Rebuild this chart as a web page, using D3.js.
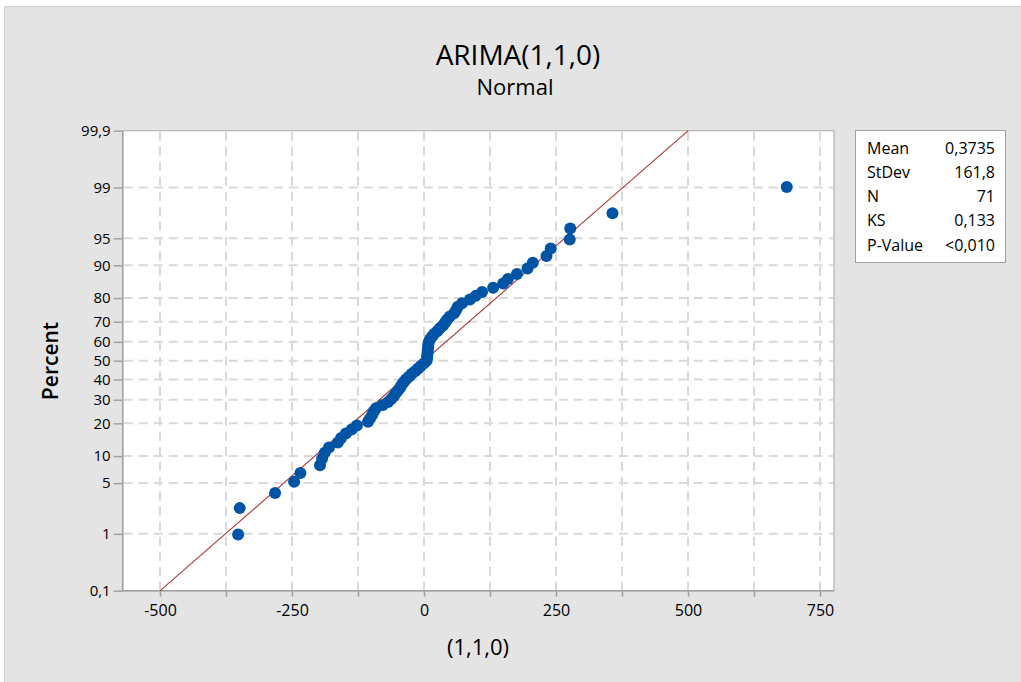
<!DOCTYPE html>
<html>
  <head>
    <script src="https://d3js.org/d3.v7.min.js"></script>
    <style>
      body {margin: 0; background: #ffffff;}
      text {font-family: "Open Sans", "Noto Sans", sans-serif; fill: #000;}
    </style>
  </head>
  <body>
    <svg width=1021 height=682></svg>
  <script>

    // residuals of ARIMA(1,1,0), sorted
    var residuals = [
      -352, -349, -282, -246, -234, -197, -193, -188, -180, -163,
      -157, -148, -137, -127, -106, -102, -98, -95, -91, -78,
      -68, -62, -57, -53, -49, -45, -42, -38, -34, -28,
      -23, -17, -11, -6, 0, 5, 6, 6, 7, 7,
      8, 8, 9, 11, 15, 19, 25, 30, 36, 40,
      44, 49, 57, 61, 64, 72, 87, 98, 110, 131,
      150, 159, 176, 196, 206, 232, 240, 276, 277, 357,
      687
    ];
    var percentTicks = [0.1, 1, 5, 10, 20, 30, 40, 50, 60, 70, 80, 90, 95, 99, 99.9];
    var percentLabels = ["0,1", "1", "5", "10", "20", "30", "40", "50", "60", "70", "80", "90", "95", "99", "99,9"];
    var xTicks = [-500, -250, 0, 250, 500, 750];
    var xGrid = [-500, -375, -250, -125, 0, 125, 250, 375, 500, 625, 750];
    var statNames = ["Mean", "StDev", "N", "KS", "P-Value"];
    var statValues = ["0,3735", "161,8", "71", "0,133", "<0,010"];
    var fitMean = 0.3735, fitSd = 161.8;

    // inverse normal cdf (Acklam)
    function qnorm(p) {
      var a = [-39.69683028665376, 220.9460984245205, -275.9285104469687, 138.3577518672690, -30.66479806614716, 2.506628277459239];
      var b = [-54.47609879822406, 161.5858368580409, -155.6989798598866, 66.80131188771972, -13.28068155288572];
      var c = [-0.007784894002430293, -0.3223964580411365, -2.400758277161838, -2.549732539343734, 4.374664141464968, 2.938163982698783];
      var d = [0.007784695709041462, 0.3224671290700398, 2.445134137142996, 3.754408661907416];
      var q, r;
      if (p < 0.02425) {
        q = Math.sqrt(-2 * Math.log(p));
        return (((((c[0]*q+c[1])*q+c[2])*q+c[3])*q+c[4])*q+c[5]) / ((((d[0]*q+d[1])*q+d[2])*q+d[3])*q+1);
      } else if (p <= 1 - 0.02425) {
        q = p - 0.5; r = q*q;
        return (((((a[0]*r+a[1])*r+a[2])*r+a[3])*r+a[4])*r+a[5])*q / (((((b[0]*r+b[1])*r+b[2])*r+b[3])*r+b[4])*r+1);
      } else {
        q = Math.sqrt(-2 * Math.log(1 - p));
        return -(((((c[0]*q+c[1])*q+c[2])*q+c[3])*q+c[4])*q+c[5]) / ((((d[0]*q+d[1])*q+d[2])*q+d[3])*q+1);
      }
    }

    function draw() {
      var svg = d3.select("svg");
      var pl = 122.7, pr = 834, pt = 130.7, pb = 590.7;
      var zMax = qnorm(0.999);

      var x = d3.scaleLinear().domain([-570.6, 776.5]).range([pl, pr]);
      var y = d3.scaleLinear().domain([-zMax, zMax]).range([pb, pt]);

      // background
      svg.append("rect").attr("x", 4.5).attr("y", 6.5).attr("width", 1030).attr("height", 690)
        .attr("fill", "#e4e4e4").attr("stroke", "#cfcfcf");

      svg.append("rect").attr("x", pl).attr("y", pt)
        .attr("width", pr - pl).attr("height", pb - pt)
        .attr("fill", "#ffffff").attr("stroke", "#b4b4b4").attr("stroke-width", 1.2);

      // grid
      var grid = svg.append("g").attr("stroke", "#d9d9d9").attr("stroke-width", 2).attr("stroke-dasharray", "9,6");
      grid.selectAll(".vg").data(xGrid).enter().append("line")
        .attr("x1", d => x(d)).attr("x2", d => x(d))
        .attr("y1", pt + 1).attr("y2", pb - 1);
      grid.selectAll(".hg").data(percentTicks.slice(1, -1)).enter().append("line")
        .attr("x1", pl + 1).attr("x2", pr - 1)
        .attr("y1", d => y(qnorm(d / 100))).attr("y2", d => y(qnorm(d / 100)));

      // axes
      var yAxis = d3.axisLeft(y)
        .tickValues(percentTicks.map(p => qnorm(p / 100)))
        .tickFormat((d, i) => percentLabels[i])
        .tickSize(9).tickPadding(3);
      var gy = svg.append("g").attr("transform", "translate(" + pl + ",0)").call(yAxis);

      var xAxis = d3.axisBottom(x).tickValues(xGrid)
        .tickFormat(d => xTicks.indexOf(d) >= 0 ? d : "")
        .tickSize(6).tickPadding(8);
      var gx = svg.append("g").attr("transform", "translate(0," + pb + ")").call(xAxis);

      [gx, gy].forEach(function(g) {
        g.select(".domain").attr("stroke", "#a0a0a0").attr("stroke-width", 1.5);
        g.selectAll(".tick line").attr("stroke", "#a0a0a0").attr("stroke-width", 1.5);
        g.selectAll(".tick text").style("font-size", "15px").attr("fill", "#000");
      });
      gx.selectAll(".tick text").style("font-size", "16px");
      gy.select(".domain").attr("d", "M0," + pt + "V" + pb);
      gx.select(".domain").attr("d", "M" + pl + ",0H" + pr);

      // fitted line
      svg.append("line")
        .attr("x1", x(fitMean - zMax * fitSd)).attr("y1", y(-zMax))
        .attr("x2", x(fitMean + zMax * fitSd)).attr("y2", y(zMax))
        .attr("stroke", "#b03838").attr("stroke-width", 1.1);

      // points (Benard median ranks)
      var n = residuals.length;
      svg.append("g").selectAll("circle")
        .data(residuals).enter().append("circle")
        .attr("cx", d => x(d))
        .attr("cy", (d, i) => y(qnorm((i + 1 - 0.3) / (n + 0.4))))
        .attr("r", 6)
        .attr("fill", "#0054a6");

      // titles
      svg.append("text").attr("x", 518).attr("y", 65).attr("text-anchor", "middle")
        .style("font-size", "28px").text("ARIMA(1,1,0)");
      svg.append("text").attr("x", 515).attr("y", 95).attr("text-anchor", "middle")
        .style("font-size", "22px").text("Normal");
      svg.append("text").attr("x", 478).attr("y", 655).attr("text-anchor", "middle")
        .style("font-size", "22px").text("(1,1,0)");
      svg.append("text").attr("transform", "translate(58,361) rotate(-90)").attr("text-anchor", "middle")
        .style("font-size", "21px").style("font-weight", "600").text("Percent");

      // stats box
      svg.append("rect").attr("x", 855.5).attr("y", 130.5).attr("width", 150).attr("height", 132)
        .attr("fill", "#ffffff").attr("stroke", "#a0a0a0");
      var rowY = d3.scalePoint().domain(statNames).range([148, 245]);
      svg.selectAll(".sn").data(statNames).enter().append("text")
        .attr("x", 867).attr("y", d => rowY(d)).attr("dy", "0.35em")
        .style("font-size", "16px").text(d => d);
      svg.selectAll(".sv").data(statValues).enter().append("text")
        .attr("x", 995).attr("y", (d, i) => rowY(statNames[i])).attr("dy", "0.35em")
        .attr("text-anchor", "end").style("font-size", "16px").text(d => d);
    }
    draw();

  </script>
  </body>
</html>
